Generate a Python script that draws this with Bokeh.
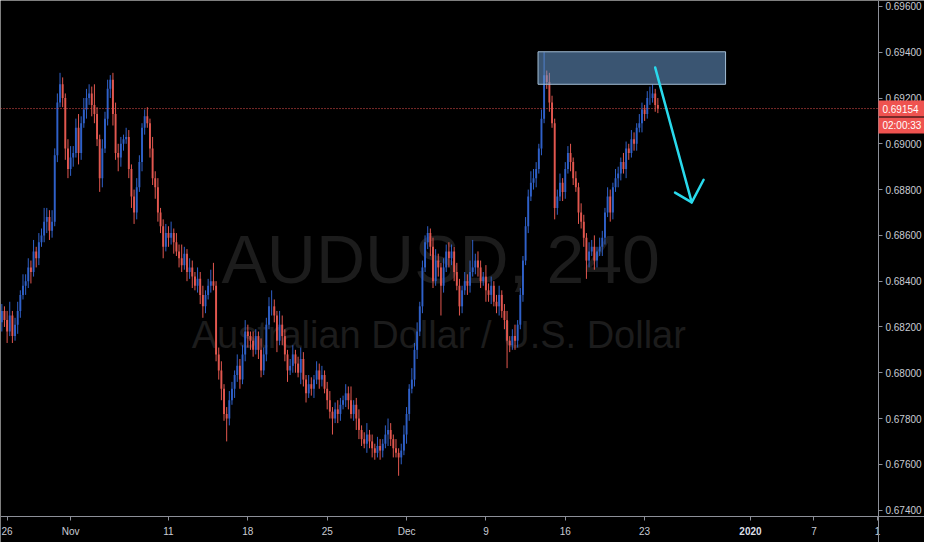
from bokeh.plotting import figure
from bokeh.models import FixedTicker, PrintfTickFormatter, Label, ColumnDataSource
from bokeh.core.properties import value
from bokeh.embed import file_html
from bokeh.resources import INLINE

# ---- data (prices in pips, 1e-4) : AUDUSD 4h candles ----
first_open = 6822
closes = [
    6827, 6823, 6818, 6825, 6816, 6821, 6827, 6834, 6838, 6840,
    6846, 6844, 6853, 6850, 6857, 6860, 6866, 6868, 6862, 6866,
    6895, 6918, 6926, 6920, 6898, 6889, 6894, 6896, 6907, 6896,
    6909, 6915, 6920, 6922, 6917, 6913, 6902, 6885, 6898, 6911,
    6924, 6928, 6913, 6896, 6894, 6900, 6902, 6903, 6889, 6877,
    6870, 6881, 6892, 6907, 6912, 6909, 6898, 6885, 6881, 6870,
    6864, 6855, 6861, 6859, 6861, 6857, 6853, 6850, 6847, 6852,
    6844, 6846, 6842, 6838, 6841, 6834, 6829, 6834, 6838, 6840,
    6838, 6808, 6801, 6793, 6782, 6780, 6788, 6793, 6799, 6803,
    6797, 6808, 6818, 6816, 6814, 6810, 6816, 6810, 6801, 6808,
    6821, 6829, 6829, 6825, 6814, 6821, 6816, 6808, 6801, 6803,
    6808, 6804, 6800, 6806, 6797, 6791, 6795, 6793, 6797, 6801,
    6797, 6799, 6793, 6788, 6783, 6780, 6784, 6782, 6786, 6788,
    6791, 6788, 6782, 6786, 6780, 6775, 6771, 6769, 6773, 6770,
    6767, 6765, 6768, 6766, 6769, 6773, 6775, 6771, 6767, 6765,
    6763, 6766, 6773, 6782, 6793, 6797, 6810, 6818, 6829, 6846,
    6857, 6861, 6855, 6840, 6849, 6846, 6838, 6846, 6853, 6850,
    6853, 6844, 6838, 6829, 6836, 6840, 6838, 6844, 6846, 6849,
    6846, 6840, 6842, 6836, 6834, 6838, 6831, 6829, 6834, 6827,
    6823, 6814, 6812, 6816, 6814, 6821, 6834, 6849, 6864, 6877,
    6883, 6885, 6889, 6898, 6911, 6930, 6927, 6918, 6909, 6872,
    6877, 6883, 6879, 6889, 6896, 6892, 6885, 6881, 6870, 6866,
    6859, 6849, 6853, 6855, 6849, 6853, 6855, 6859, 6870, 6877,
    6870, 6881, 6885, 6887, 6892, 6889, 6898, 6896, 6902, 6900,
    6907, 6909, 6915, 6913, 6920, 6920, 6922, 6917, 6915.4,
]
wick_up = [
    3, 2, 4, 6, 2, 3, 4, 2, 5, 3,
    4, 3, 5, 2, 4, 3, 6, 4, 3, 5,
    3, 4, 5, 3, 2, 4, 5, 3, 4, 6,
    3, 5, 4, 4, 3, 9, 3, 2, 4, 3,
    4, 2, 3, 5, 4, 3, 2, 4, 3, 2,
    3, 4, 3, 2, 3, 4, 2, 5, 3, 4,
    2, 3, 4, 3, 5, 2, 4, 3, 6, 3,
    2, 4, 3, 2, 5, 3, 4, 2, 3, 5,
    8, 2, 3, 4, 2, 3, 4, 3, 2, 5,
    3, 4, 5, 3, 2, 4, 3, 2, 5, 3,
    3, 4, 7, 3, 2, 6, 4, 3, 2, 3,
    4, 2, 3, 5, 3, 2, 4, 3, 2, 4,
    3, 4, 2, 3, 4, 2, 3, 4, 3, 2,
    4, 3, 6, 2, 3, 4, 2, 3, 5, 2,
    3, 2, 4, 3, 2, 4, 5, 3, 2, 4,
    2, 3, 4, 3, 2, 5, 3, 4, 2, 3,
    3, 3, 2, 4, 5, 3, 2, 4, 3, 4,
    3, 2, 4, 3, 2, 4, 3, 5, 12, 3,
    4, 3, 2, 5, 3, 4, 2, 3, 4, 2,
    3, 4, 2, 3, 5, 2, 3, 2, 4, 3,
    5, 4, 3, 2, 4, 10, 2, 4, 3, 2,
    3, 4, 2, 3, 3, 4, 2, 3, 2, 4,
    3, 2, 4, 3, 5, 2, 4, 3, 2, 4,
    3, 2, 4, 3, 2, 4, 3, 2, 4, 3,
    2, 4, 3, 2, 3, 5, 4, 2, 3,
]
wick_dn = [
    4, 3, 5, 2, 3, 2, 4, 3, 2, 4,
    3, 5, 2, 4, 3, 2, 3, 5, 4, 3,
    2, 3, 2, 4, 5, 4, 3, 4, 2, 5,
    3, 2, 4, 3, 5, 4, 3, 6, 4, 2,
    3, 4, 5, 3, 6, 4, 3, 2, 4, 5,
    5, 3, 2, 4, 3, 2, 4, 3, 5, 4,
    3, 5, 2, 4, 3, 5, 2, 4, 3, 2,
    4, 3, 5, 2, 3, 4, 5, 3, 2, 3,
    2, 3, 4, 5, 3, 10, 3, 2, 4, 3,
    4, 2, 3, 5, 4, 3, 2, 4, 3, 2,
    3, 2, 4, 3, 5, 2, 4, 3, 5, 2,
    3, 4, 2, 5, 3, 4, 2, 3, 4, 2,
    4, 3, 2, 4, 3, 7, 2, 4, 3, 2,
    3, 4, 2, 3, 5, 4, 3, 2, 4, 3,
    4, 3, 2, 4, 3, 2, 5, 3, 4, 2,
    8, 3, 2, 4, 3, 2, 3, 4, 2, 3,
    2, 3, 4, 3, 2, 4, 13, 3, 2, 4,
    3, 4, 2, 4, 3, 2, 4, 3, 2, 3,
    4, 3, 2, 5, 3, 4, 2, 3, 4, 3,
    4, 12, 3, 2, 4, 3, 2, 3, 2, 3,
    2, 3, 4, 2, 3, 2, 3, 4, 2, 5,
    3, 2, 4, 3, 2, 4, 3, 2, 5, 3,
    4, 8, 3, 2, 4, 3, 2, 4, 3, 2,
    4, 3, 2, 4, 3, 2, 4, 3, 2, 3,
    3, 2, 4, 3, 2, 3, 2, 3, 2,
]

date_ticks = [2, 26, 63, 93, 123, 153, 183, 213, 243, 283, 307, 331]
date_labels = ["26", "Nov", "11", "18", "25", "Dec", "9", "16", "23", "2020", "7", "1"]
price_ticks = [0.674, 0.676, 0.678, 0.680, 0.682, 0.684, 0.686, 0.688, 0.690, 0.692, 0.694, 0.696]

last_price = 0.69154
countdown = "02:00:33"

zone_start_bar, zone_end_bar = 202.7, 273.6
zone_low, zone_high = 0.69260, 0.69402

arrow_x = [247.0, 260.8]
arrow_y = [0.69333, 0.68744]
arrow_head_x = [254.5, 260.8, 265.3]
arrow_head_y = [0.68787, 0.68744, 0.68843]

symbol = "AUDUSD, 240"
description = "Australian Dollar / U.S. Dollar"

# ---- layout / style constants ----
FONT = "Liberation Sans"
UP = "#2f60c8"
DN = "#e2574f"
AXIS_COL = "#8c8f98"
LABEL_COL = "#c9ccd4"
W, H = 924, 542
X0, X1 = -0.5, 348.8          # full canvas in bar units
SCALE_X = 331.4               # price scale line position (bars)
Y_TOP, Y_AXIS = 0.69626, 0.67372
PX_PER_PRICE = 516 / (Y_TOP - Y_AXIS)
Y_BOT = Y_AXIS - 26 / PX_PER_PRICE

# ---- build candles ----
n = min(len(closes), len(wick_up), len(wick_dn))
opens = [first_open] + closes[:n - 1]
xs, lo, hi, btm, top, col = [], [], [], [], [], []
for i in range(n):
    o, c = opens[i], closes[i]
    xs.append(i)
    top.append(max(o, c) / 1e4)
    btm.append(min(o, c) / 1e4)
    hi.append((max(o, c) + wick_up[i]) / 1e4)
    lo.append((min(o, c) - wick_dn[i]) / 1e4)
    col.append(UP if c >= o else DN)
src = ColumnDataSource(dict(x=xs, lo=lo, hi=hi, btm=btm, top=top, col=col))

p = figure(width=W, height=H, output_backend="svg", toolbar_location=None,
           x_range=(X0, X1), y_range=(Y_BOT, Y_TOP),
           y_axis_location="right", min_border=0)
p.background_fill_color = "#000000"
p.border_fill_color = "#000000"
p.outline_line_color = None
p.xgrid.visible = False
p.ygrid.visible = False

for ax in (p.xaxis[0], p.yaxis[0]):
    ax.axis_line_color = AXIS_COL
    ax.major_tick_line_color = AXIS_COL
    ax.minor_tick_line_color = None
    ax.major_tick_in = 0
    ax.major_tick_out = 4
    ax.major_label_text_color = LABEL_COL
    ax.major_label_text_font = FONT
    ax.major_label_text_font_size = "10px"

p.xaxis.fixed_location = Y_AXIS
p.yaxis.fixed_location = SCALE_X
p.xaxis.ticker = FixedTicker(ticks=date_ticks)
p.xaxis.major_label_overrides = {t: (l if l != "2020" else "") for t, l in zip(date_ticks, date_labels)}
p.xaxis.major_label_standoff = 5
p.yaxis.ticker = FixedTicker(ticks=price_ticks)
p.yaxis.formatter = PrintfTickFormatter(format="%.5f")
p.yaxis.major_label_standoff = 3

# watermark
p.add_layout(Label(x=165.9, y=0.68499, text=symbol, text_align="center", text_baseline="alphabetic",
                   text_font=FONT, text_font_size="68px", text_color="#1c1c1c", level="underlay"))
p.add_layout(Label(x=165.2, y=0.68163, text=description, text_align="center", text_baseline="alphabetic",
                   text_font=FONT, text_font_size="38px", text_color="#1c1c1c", level="underlay"))

# candles
p.segment(x0="x", y0="lo", x1="x", y1="hi", color="col", line_width=1, source=src)
p.vbar(x="x", width=0.72, bottom="btm", top="top", fill_color="col", line_color=None, source=src)

# last price line
p.segment(x0=[X0], y0=[last_price], x1=[SCALE_X], y1=[last_price], line_color="#ef5350",
          line_dash="1 2", line_width=1)

# supply zone
p.quad(left=[zone_start_bar], right=[zone_end_bar], bottom=[zone_low], top=[zone_high],
       fill_color="#6a9bd0", fill_alpha=0.55, line_color="#a3bdd4", line_width=1)

# arrow
p.line(arrow_x, arrow_y, line_color="#29d9ec", line_width=2.5, line_cap="round")
p.line(arrow_head_x, arrow_head_y, line_color="#29d9ec", line_width=2.5, line_cap="round",
       line_join="round")

# price scale tags (last price + countdown)
box_h = 16 / PX_PER_PRICE
tag1_y = last_price
tag2_y = last_price - 17 / PX_PER_PRICE
p.quad(left=[SCALE_X, SCALE_X], right=[X1, X1],
       bottom=[tag1_y - box_h / 2, tag2_y - box_h / 2], top=[tag1_y + box_h / 2, tag2_y + box_h / 2],
       fill_color="#ef5350", line_color=None, level="overlay")
p.text(x=[SCALE_X, SCALE_X], y=[tag1_y, tag2_y], text=[f"{last_price:.5f}", countdown],
       x_offset=4, text_align="left", text_baseline="middle", text_font=value(FONT),
       text_font_size="10px", text_color="#ffffff", level="overlay")

# bold year label on time scale
p.text(x=[date_ticks[date_labels.index("2020")]], y=[Y_AXIS], text=["2020"], y_offset=14,
       text_align="center", text_baseline="middle", text_font=value(FONT), text_font_size="10px",
       text_font_style="bold", text_color="#dcdfe6", level="overlay")

open("out.html", "w").write(file_html(p, INLINE))
